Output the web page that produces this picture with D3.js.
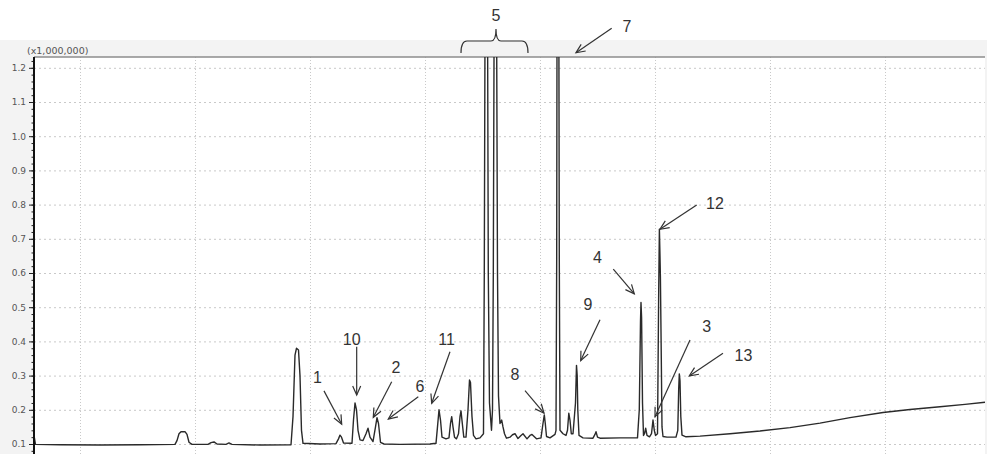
<!DOCTYPE html>
<html>
<head>
<meta charset="utf-8">
<script src="https://cdn.jsdelivr.net/npm/d3@7"></script>
<style>
  html, body { margin: 0; padding: 0; background: #fff; }
  #chart { width: 987px; height: 454px; }
  .tick text { font-family: "DejaVu Sans", sans-serif; font-size: 9px; fill: #555; }
  .callout { font-family: "Liberation Sans", Arial, sans-serif; font-size: 16px; fill: #333; }
</style>
</head>
<body>
<div id="chart"></div>
<script>
// retention time (min) / intensity (x1,000,000)
const traceTime = [
  3.000, 3.065, 4.130, 5.870, 7.609, 9.130, 9.217, 9.304, 9.391, 9.565, 9.652, 9.739, 9.870,
  10.565, 10.696, 10.826, 10.957, 11.348, 11.478, 11.609, 12.826,
  14.174, 14.261, 14.348, 14.413, 14.500, 14.565, 14.630, 14.696, 15.435,
  16.130, 16.239, 16.304, 16.370, 16.457, 16.826, 16.891, 16.957, 17.022, 17.087,
  17.174, 17.304, 17.435, 17.522, 17.609, 17.739, 17.848, 17.913, 17.978, 18.065, 18.217,
  18.913, 20.217, 20.478, 20.543, 20.609, 20.674, 20.739, 20.913, 21.043,
  21.109, 21.161, 21.217, 21.283, 21.370, 21.457, 21.522, 21.565, 21.622, 21.687, 21.783,
  21.870, 21.935, 21.978, 22.043, 22.109, 22.217, 22.391, 22.543,
  22.578, 22.665, 22.752, 22.804, 22.891, 22.935,
  22.970, 23.057, 23.152, 23.196, 23.261, 23.335, 23.391, 23.457, 23.543,
  23.696, 23.804, 23.913, 24.043, 24.174, 24.261, 24.435, 24.565, 24.652, 24.848, 25.043,
  25.130, 25.187, 25.230, 25.283, 25.435, 25.652,
  25.696, 25.726, 25.774, 25.839, 25.870, 26.000, 26.130,
  26.196, 26.252, 26.304, 26.361, 26.435, 26.543, 26.587, 26.617, 26.643, 26.696, 26.870,
  27.304, 27.391, 27.435, 27.500, 27.609, 28.478, 29.239,
  29.317, 29.370, 29.391, 29.417, 29.457, 29.500, 29.543, 29.596, 29.652, 29.761,
  29.848, 29.913, 29.970, 30.022, 30.109,
  30.161, 30.191, 30.217, 30.235, 30.274, 30.304, 30.348, 30.522, 30.913, 30.991,
  31.030, 31.057, 31.087, 31.122, 31.174, 31.348,
  31.957, 33.261, 34.565, 35.870, 37.174, 38.478, 39.913, 41.087, 42.391, 43.478, 44.348
];
const traceIntensity = [
  0.125, 0.099, 0.098, 0.097, 0.098, 0.099, 0.110, 0.130, 0.136, 0.136, 0.128, 0.105, 0.099,
  0.099, 0.104, 0.106, 0.100, 0.099, 0.103, 0.099, 0.097,
  0.098, 0.180, 0.360, 0.380, 0.375, 0.300, 0.140, 0.102, 0.100,
  0.101, 0.115, 0.126, 0.120, 0.103, 0.102, 0.170, 0.220, 0.200, 0.140,
  0.112, 0.110, 0.130, 0.146, 0.120, 0.107, 0.150, 0.177, 0.160, 0.105, 0.100,
  0.099, 0.100, 0.102, 0.150, 0.200, 0.170, 0.120, 0.115, 0.118,
  0.160, 0.180, 0.150, 0.120, 0.115, 0.130, 0.180, 0.197, 0.160, 0.120, 0.120,
  0.200, 0.287, 0.280, 0.180, 0.125, 0.115, 0.118, 0.130,
  0.600, 2.600, 0.600, 0.220, 0.140, 0.200,
  0.600, 2.400, 0.600, 0.240, 0.160, 0.170, 0.150, 0.130, 0.117,
  0.120, 0.127, 0.130, 0.116, 0.125, 0.130, 0.115, 0.125, 0.128, 0.115, 0.118,
  0.160, 0.185, 0.160, 0.122, 0.118, 0.128,
  0.140, 0.640, 3.000, 0.640, 0.140, 0.130, 0.125,
  0.140, 0.190, 0.170, 0.130, 0.130, 0.220, 0.330, 0.300, 0.200, 0.125, 0.118,
  0.117, 0.128, 0.136, 0.120, 0.117, 0.118, 0.118,
  0.200, 0.460, 0.514, 0.470, 0.220, 0.125, 0.130, 0.146, 0.125, 0.121,
  0.130, 0.170, 0.140, 0.125, 0.130,
  0.550, 0.728, 0.650, 0.590, 0.350, 0.150, 0.122, 0.120, 0.120, 0.140,
  0.260, 0.305, 0.285, 0.180, 0.126, 0.121,
  0.123, 0.130, 0.138, 0.148, 0.161, 0.177, 0.192, 0.201, 0.209, 0.216, 0.222
];

const yTicks = [0.1, 0.2, 0.3, 0.4, 0.5, 0.6, 0.7, 0.8, 0.9, 1.0, 1.1, 1.2];
const timeGrid = [5, 10, 15, 20, 25, 30, 35, 40];

// peak callouts: label and the point the arrow touches
const calloutLabels = ["1", "10", "2", "6", "11", "8", "7", "9", "4", "3", "12", "13"];
const calloutTime = [16.378, 17.030, 17.752, 18.404, 20.291, 25.174, 26.565, 26.770, 29.100, 30.000, 30.217, 31.491];
const calloutValue = [0.158, 0.243, 0.178, 0.173, 0.219, 0.190, 1.244, 0.344, 0.539, 0.180, 0.728, 0.299];
const groupLabel = "5";
const groupRange = [21.565, 24.478];

const W = 987, H = 454;
const plot = { left: 34, right: 985, top: 57, bottom: 454 };

// where each label and arrow tail sits relative to the arrow tip (px)
const calloutOffset = {
  "1":  { lx: -24.2, ly: -46.5, sx: -17.7, sy: -33.3 },
  "10": { lx: -5,    ly: -56,   sx: 0,     sy: -48.3 },
  "2":  { lx: 22.7,  ly: -49.8, sx: 18.4,  sy: -35.6 },
  "6":  { lx: 31.7,  ly: -33,   sx: 30,    sy: -22.3 },
  "11": { lx: 14.8,  ly: -64.3, sx: 18.3,  sy: -51.6 },
  "8":  { lx: -29,   ly: -39.3, sx: -19,   sy: -22.6 },
  "7":  { lx: 51,    ly: -26.7, sx: 35.7,  sy: -24.4 },
  "9":  { lx: 7.3,   ly: -56.7, sx: 19.3,  sy: -40.7 },
  "4":  { lx: -36.8, ly: -37,   sx: -21,   sy: -24.7 },
  "3":  { lx: 51.7,  ly: -90.7, sx: 35,    sy: -76.7 },
  "12": { lx: 55,    ly: -25.8, sx: 36.7,  sy: -24.3 },
  "13": { lx: 54.2,  ly: -21,   sx: 33.7,  sy: -22.7 }
};

const x = d3.scaleLinear().domain([3, 44.348]).range([plot.left, plot.right]);
const y = d3.scaleLinear().domain([0.1, 1.2]).range([444, 67.8]);

const svg = d3.select('#chart').append('svg')
  .attr('width', W).attr('height', H)
  .attr('viewBox', `0 0 ${W} ${H}`);

// frame + plot background
svg.append('rect').attr('x', 0).attr('y', 40).attr('width', W).attr('height', H - 40).attr('fill', '#f3f3f3');
svg.append('rect')
  .attr('x', plot.left).attr('y', plot.top)
  .attr('width', plot.right - plot.left).attr('height', plot.bottom - plot.top)
  .attr('fill', '#fff');

svg.append('defs').append('clipPath').attr('id', 'clip')
  .append('rect')
  .attr('x', plot.left).attr('y', plot.top)
  .attr('width', plot.right - plot.left).attr('height', plot.bottom - plot.top);

// grid
svg.append('g').selectAll('line').data(yTicks).join('line')
  .attr('x1', plot.left).attr('x2', plot.right)
  .attr('y1', d => y(d) + 0.5).attr('y2', d => y(d) + 0.5)
  .attr('stroke', '#c9c9c9').attr('stroke-width', 1)
  .attr('stroke-dasharray', '2,3');

svg.append('g').selectAll('line').data(timeGrid).join('line')
  .attr('x1', d => Math.round(x(d)) + 0.5).attr('x2', d => Math.round(x(d)) + 0.5)
  .attr('y1', plot.top).attr('y2', plot.bottom)
  .attr('stroke', '#c9c9c9').attr('stroke-width', 1)
  .attr('stroke-dasharray', '1,2');

// top border
svg.append('line')
  .attr('x1', plot.left).attr('x2', plot.right)
  .attr('y1', plot.top).attr('y2', plot.top)
  .attr('stroke', '#8c8c8c').attr('stroke-width', 1.5);

// trace
const pts = traceTime.map((t, i) => [t, traceIntensity[i]]);
svg.append('path')
  .datum(pts)
  .attr('clip-path', 'url(#clip)')
  .attr('fill', 'none')
  .attr('stroke', '#2a2a2a')
  .attr('stroke-width', 1.4)
  .attr('stroke-linejoin', 'round')
  .attr('d', d3.line().x(d => x(d[0])).y(d => y(d[1])));

// y axis, minor ticks every 0.02
const minorTicks = d3.range(0.08, 1.23, 0.02);
svg.append('g')
  .attr('transform', `translate(${plot.left},0)`)
  .call(d3.axisLeft(y).tickValues(minorTicks).tickSize(2.5).tickFormat(''))
  .call(g => g.select('.domain').remove())
  .call(g => g.selectAll('.tick line').attr('stroke', '#222'));

const yAxis = svg.append('g')
  .attr('transform', `translate(${plot.left},0)`)
  .call(d3.axisLeft(y).tickValues(yTicks).tickSize(5).tickPadding(3).tickFormat(d3.format('.1f')));
yAxis.select('.domain').remove();
yAxis.selectAll('.tick line').attr('stroke', '#222');

svg.append('line')
  .attr('x1', plot.left).attr('x2', plot.left)
  .attr('y1', plot.top).attr('y2', plot.bottom)
  .attr('stroke', '#111').attr('stroke-width', 2);

svg.append('text')
  .attr('x', 27).attr('y', 54)
  .attr('font-family', '"DejaVu Sans", sans-serif')
  .attr('font-size', 9.5)
  .attr('fill', '#555')
  .text('(x1,000,000)');

// arrows
svg.select('defs').append('marker')
  .attr('id', 'head')
  .attr('markerUnits', 'userSpaceOnUse')
  .attr('markerWidth', 12).attr('markerHeight', 12)
  .attr('viewBox', '-10 -6 12 12')
  .attr('refX', 0).attr('refY', 0)
  .attr('orient', 'auto')
  .append('path')
  .attr('d', 'M-9,-4 L0,0 L-9,4')
  .attr('fill', 'none').attr('stroke', '#333').attr('stroke-width', 1.2);

const callouts = calloutLabels.map((label, i) => {
  const o = calloutOffset[label];
  const tx = x(calloutTime[i]), ty = y(calloutValue[i]);
  return { label, tx, ty, lx: tx + o.lx, ly: ty + o.ly, sx: tx + o.sx, sy: ty + o.sy };
});

const cg = svg.append('g');
cg.selectAll('line').data(callouts).join('line')
  .attr('x1', d => d.sx).attr('y1', d => d.sy)
  .attr('x2', d => d.tx).attr('y2', d => d.ty)
  .attr('stroke', '#333').attr('stroke-width', 1.2)
  .attr('marker-end', 'url(#head)');

cg.selectAll('text').data(callouts).join('text')
  .attr('class', 'callout')
  .attr('x', d => d.lx).attr('y', d => d.ly)
  .attr('dy', '0.36em')
  .attr('text-anchor', 'middle')
  .text(d => d.label);

// brace over the group of peaks labelled 5
const bx0 = x(groupRange[0]), bx1 = x(groupRange[1]), bm = (bx0 + bx1) / 2 + 1.5;
const tipY = plot.top - 4, barY = plot.top - 16, pointY = plot.top - 28;
svg.append('path')
  .attr('d', `M${bx0},${tipY} Q${bx0},${barY} ${bx0 + 6},${barY} L${bm - 5},${barY} Q${bm},${barY} ${bm},${pointY}`
    + ` Q${bm},${barY} ${bm + 5},${barY} L${bx1 - 6},${barY} Q${bx1},${barY} ${bx1},${tipY}`)
  .attr('fill', 'none').attr('stroke', '#333').attr('stroke-width', 1.2);

svg.append('text')
  .attr('class', 'callout')
  .attr('x', bm).attr('y', 15)
  .attr('dy', '0.36em')
  .attr('text-anchor', 'middle')
  .text(groupLabel);
</script>
</body>
</html>
